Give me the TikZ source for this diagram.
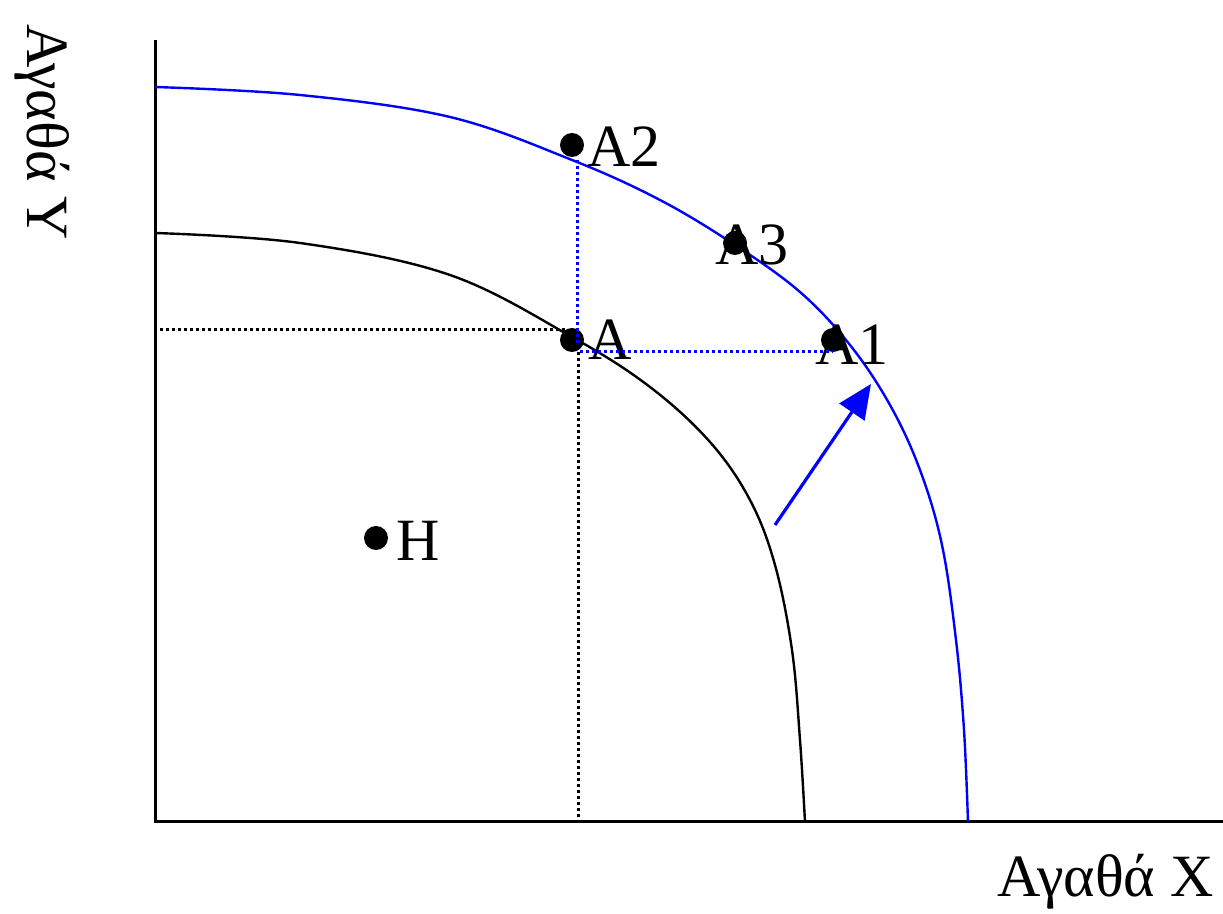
\documentclass[tikz,border=0pt]{standalone}
\usepackage{fontspec}
\setmainfont{Liberation Serif}
\usetikzlibrary{arrows.meta}
\definecolor{Frontier}{RGB}{0,0,255}
\tikzset{
  axis line/.style={line width=1.5pt,draw=black},
  ppf black/.style={line width=1.2pt,draw=black},
  ppf blue/.style={line width=1.2pt,draw=Frontier},
  guide black/.style={line width=1.5pt,draw=black,dash pattern=on 1.5pt off 1.5pt},
  guide blue/.style={line width=1.5pt,draw=Frontier,dash pattern=on 1.5pt off 1.5pt},
  dot/.style={circle,fill=black,inner sep=0pt,minimum size=12pt},
  lbl/.style={font=\fontsize{30}{36}\selectfont,inner sep=0pt},
  shift arrow/.style={-{Triangle[length=17pt,width=15pt]},line width=1.6pt,draw=Frontier}
}
\begin{document}
\begin{tikzpicture}[x=0.5pt,y=-0.5pt]
  \useasboundingbox (0,0) rectangle (1223,914);
  % axes
  \coordinate (origin) at (155,822);
  \coordinate (ytop) at (155,40);
  \coordinate (xend) at (1223,822);
  \draw[axis line] (ytop) -- (origin) -- (xend);
  \node[lbl,rotate=-90] (ylab) at (42,132) {Αγαθά Υ};
  \node[lbl,anchor=east] (xlab) at (1214,882) {Αγαθά Χ};
  % frontiers
  \draw[ppf black] plot[smooth,tension=0.6] coordinates {(155,233) (300,243) (450,275) (572,337) (650,387) (710,442) (750,500) (775,565) (792,650) (800,740) (805,822)};
  \draw[ppf blue] plot[smooth,tension=0.6] coordinates {(155,87) (300,95) (450,117) (572,160) (660,200) (735,245) (800,292) (850,345) (890,405) (920,470) (942,545) (956,640) (964,730) (968,822)};
  % points
  \node[dot] (a) at (572,340) {};
  \node[dot] (a1) at (833,340) {};
  \node[dot] (a2) at (572,145) {};
  \node[dot] (a3) at (735,243) {};
  \node[dot] (h) at (376,538) {};
  \node[lbl,anchor=west] at (588,340) {A};
  \node[lbl,anchor=west] at (815,345) {A1};
  \node[lbl,anchor=west] at (587,147) {A2};
  \node[lbl,anchor=west] at (715,245) {A3};
  \node[lbl,anchor=west] at (396,541) {H};
  % guides
  \coordinate (ay) at (160,330);
  \coordinate (ax) at (578,822);
  \draw[guide black] (ay) -- (566,330);
  \draw[guide black] (578,346) -- (ax);
  \draw[guide blue] (577,160) -- (577,345);
  \draw[guide blue] (580,352) -- (833,352);
  % shift
  \coordinate (sfrom) at (775,525);
  \coordinate (sto) at (871,384);
  \draw[shift arrow] (sfrom) -- (sto);
\end{tikzpicture}
\end{document}
